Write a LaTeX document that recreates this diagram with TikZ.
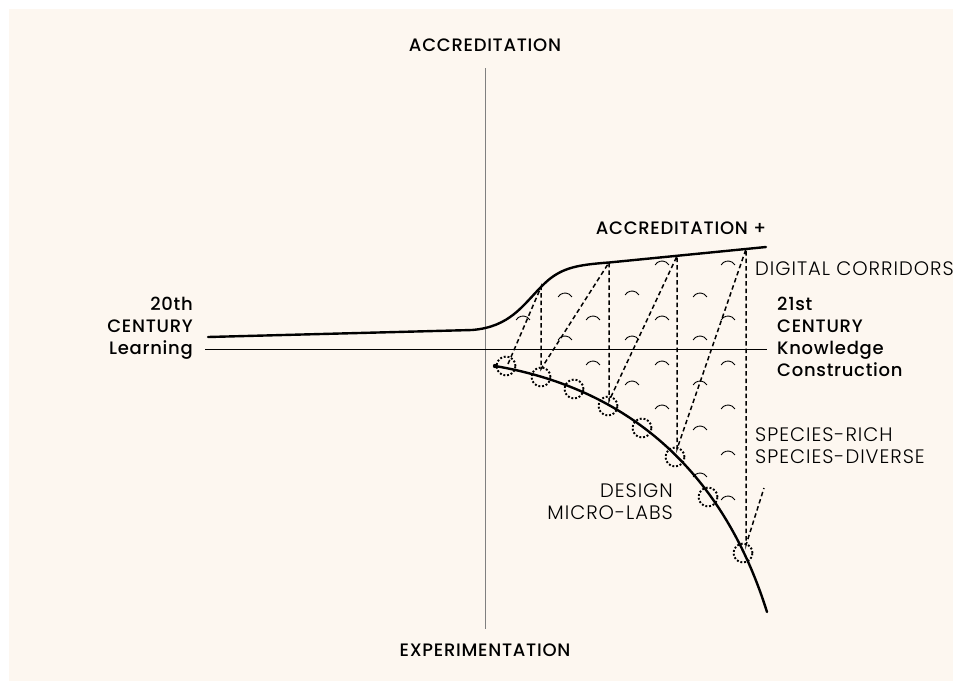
\documentclass[tikz,border=0pt]{standalone}
\usepackage{fontspec}
\setmainfont{Poppins}
\newfontfamily\lightfont{Poppins Light}[LetterSpace = 5]
\newfontfamily\medfont{Poppins Medium}[LetterSpace = 4]
\usetikzlibrary{positioning}
\definecolor{cream}{HTML}{FDF7F0}

\begin{document}
\begin{tikzpicture}[
        x = 1pt, y = -1pt,
        thickline/.style = {line width = 2.4pt, line cap = round},
        axisline/.style = {line width = 0.9pt},
        corridor/.style = {line width = 1.5pt, dash pattern = on 4.5pt off 3pt},
        lab/.style = {circle, draw, line width = 1.9pt, dash pattern = on 1.9pt off 1.9pt,
                      minimum size = 19pt, inner sep = 0pt},
        medtext/.style = {font = \medfont\fontsize{18}{22}\selectfont, inner sep = 0pt},
        lighttext/.style = {font = \lightfont\fontsize{19.5}{22}\selectfont, inner sep = 0pt},
        hump/.pic = {\draw[line width = 0.9pt] (-6.9,2) arc[start angle = 210, end angle = 330, radius = 8];}]

      %background
      \useasboundingbox (0,0) rectangle (953,681);
      \fill[white] (0,0) rectangle (953,681);
      \fill[cream] (9,9) rectangle (953,681);

      %axes
      \coordinate (AxisTop) at (485,68);
      \coordinate (AxisBottom) at (485,629);
      \coordinate (AxisLeft) at (205,349);
      \coordinate (AxisRight) at (767,349);
      \draw[axisline, gray] (AxisTop) -- (AxisBottom);
      \draw[axisline] (AxisLeft) -- (AxisRight);

      %axis texts
      \node[medtext] (Accreditation) [above = 16pt of AxisTop] {ACCREDITATION};
      \node[medtext] (Experimentation) [below = 15pt of AxisBottom] {EXPERIMENTATION};
      \node[medtext, align = right, anchor = north east] (OldCentury) at (193,297) {20th\\CENTURY\\Learning};
      \node[medtext, align = left, anchor = north west] (NewCentury) at (777,297) {21st\\CENTURY\\Knowledge\\Construction};

      %upper curve
      \coordinate (OldStart) at (208,337);
      \coordinate (Bend) at (472,330);
      \coordinate (Top1) at (541,287);
      \coordinate (Top2) at (609,262.5);
      \coordinate (Top3) at (677,256);
      \coordinate (Top4) at (746,249);
      \coordinate (PlusEnd) at (766,247);
      \draw[thickline] (OldStart) -- (Bend)
        .. controls (510,327) and (523,305) .. (Top1)
        .. controls (559,268) and (575,265) .. (Top2) -- (PlusEnd);
      \node[medtext] (AccPlus) at (681,228) {ACCREDITATION +};

      %lower curve
      \coordinate (LabStart) at (495,366);
      \coordinate (LabEnd) at (767,612);
      \draw[thickline] (LabStart) .. controls (625,388) and (722,468) .. (LabEnd);
      \fill (LabStart) circle (2.2);

      %micro-labs
      \foreach \n/\x/\y in {1/506/366, 2/541/377, 3/574/389, 4/608/406,
                            5/642/428, 6/675/457, 7/708/497, 8/743/553}
        \node[lab] (Lab\n) at (\x,\y) {};

      %corridors
      \coordinate (Foot1) at (508,364);
      \coordinate (Foot2) at (541,369);
      \coordinate (Foot4) at (609,401);
      \coordinate (Foot6) at (677,449);
      \coordinate (Foot8) at (746,545);
      \coordinate (Tail) at (764,488);
      \draw[corridor] (Foot1) -- (Top1) -- (Foot2) -- (Top2) -- (Foot4)
        -- (Top3) -- (Foot6) -- (Top4) -- (Foot8) -- (Tail);

      %species
      \foreach \x/\y in {523/318, 565/295, 565/338, 593/318, 593/363,
                         632/293, 632/338, 632/383,
                         662/263, 662/318, 662/363, 662/407,
                         700/295, 700/338, 700/383, 700/428, 700/475,
                         728/263, 728/318, 728/363, 728/407, 728/453, 728/498}
        \pic at (\x,\y) {hump};

      %side texts
      \node[lighttext, anchor = base west] (Corridors) at (755,275) {DIGITAL CORRIDORS};
      \node[lighttext, align = left, anchor = north west] (Species) at (755,428) {SPECIES-RICH\\SPECIES-DIVERSE};
      \node[lighttext, align = right, anchor = north east] (MicroLabs) at (673,484) {DESIGN\\MICRO-LABS};
    \end{tikzpicture}
\end{document}
